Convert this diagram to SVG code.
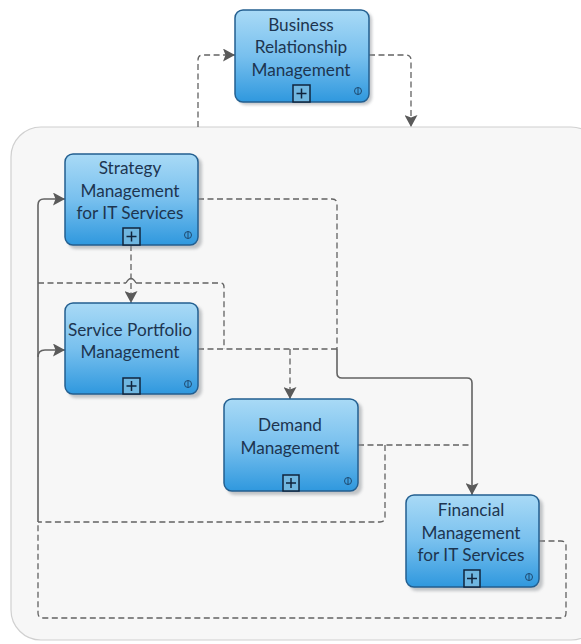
<svg xmlns="http://www.w3.org/2000/svg" width="581" height="644" viewBox="0 0 581 644">
<style>
.box{fill:url(#g);stroke:#235f90;stroke-width:1.5}
.sh{fill:#8a8f94;opacity:.5;filter:url(#b)}
.t{font-family:"Lato","Open Sans","Liberation Sans",sans-serif;font-size:17.2px;fill:#1d3550;text-anchor:middle}
.pl{fill:#6fb6e0;stroke:#10243c;stroke-width:1.5}
.pm{stroke:#10243c;stroke-width:1.5;fill:none}
.i{fill:none;stroke:#1f4a70;stroke-width:1}
.c{fill:none;stroke:#636363;stroke-width:1.3}
.d{stroke-dasharray:6 3.5}
.s{stroke-width:1.6}
</style>
<defs>
<linearGradient id="g" x1="0" y1="0" x2="0" y2="1"><stop offset="0" stop-color="#a9daf6"/><stop offset=".5" stop-color="#78c0ee"/><stop offset="1" stop-color="#2f98de"/></linearGradient>
<filter id="b" x="-10%" y="-10%" width="120%" height="120%"><feGaussianBlur stdDeviation="1.5"/></filter>
<marker id="a" markerUnits="userSpaceOnUse" markerWidth="13" markerHeight="13" refX="12" refY="6.500" orient="auto"><path d="M0 0L12 6.500L0 13L2.500 6.500Z" fill="#5a5a5a"/></marker>
</defs>
<rect width="581" height="644" fill="#ffffff"/>
<rect id="container" x="11" y="127" width="590" height="513" rx="30" fill="#f7f7f7" stroke="#d0d0d0" stroke-width="1.2"/>
<g id="connectors">
<path class="c d" d="M198 127V60Q198 55 203 55H235" marker-end="url(#a)"/>
<path class="c d" d="M369 55H406Q411 55 411 60V127" marker-end="url(#a)"/>
<path class="c s" d="M38 522V205Q38 199 44 199H65" marker-end="url(#a)"/>
<path class="c s" d="M38 357Q38 350 45 350H65" marker-end="url(#a)"/>
<path class="c d" d="M131 245V303" marker-end="url(#a)"/>
<path class="c" d="M126 283Q131 274 136 283"/>
<path class="c d" d="M38 283H126M136 283H220Q224 283 224 287V349"/>
<path class="c d" d="M198 349H337"/>
<path class="c d" d="M290 349V399" marker-end="url(#a)"/>
<path class="c d" d="M198 199H332Q337 199 337 204V349"/>
<path class="c s" d="M337 349V373Q337 378 342 378H467Q472 378 472 383V495" marker-end="url(#a)"/>
<path class="c d" d="M358 445H472"/>
<path class="c d" d="M385 445V517Q385 522 380 522H38"/>
<path class="c d" d="M539 541H561Q566 541 566 546V613Q566 618 561 618H43Q38 618 38 613V522"/>
</g>
<g id="n-brm">
<rect class="sh" x="238" y="12" width="134" height="93" rx="8"/>
<rect class="box" x="235" y="10" width="134" height="92" rx="8"/>
<text class="t" x="301" y="31">Business</text><text class="t" x="301" y="53">Relationship</text><text class="t" x="301" y="76">Management</text>
<rect class="pl" x="293" y="85" width="17" height="17"/><path class="pm" d="M296.500 93.500H306.500M301.500 88.500V98.500"/>
<circle class="i" cx="358" cy="91" r="3.500"/><path class="i" d="M358 87.500V94.500"/>
</g>
<g id="n-strategy">
<rect class="sh" x="68" y="157" width="134" height="92" rx="8"/>
<rect class="box" x="65" y="154" width="133" height="91" rx="8"/>
<text class="t" x="130" y="174">Strategy</text><text class="t" x="130" y="197">Management</text><text class="t" x="130" y="219">for IT Services</text>
<rect class="pl" x="123" y="228" width="17" height="17"/><path class="pm" d="M126.500 236.500H136.500M131.500 231.500V241.500"/>
<circle class="i" cx="188" cy="235" r="3.500"/><path class="i" d="M188 231.500V238.500"/>
</g>
<g id="n-portfolio">
<rect class="sh" x="68" y="306" width="134" height="92" rx="8"/>
<rect class="box" x="65" y="303" width="133" height="91" rx="8"/>
<text class="t" x="130" y="336">Service Portfolio</text><text class="t" x="130" y="358">Management</text>
<rect class="pl" x="123" y="378" width="17" height="16"/><path class="pm" d="M126.500 386H136.500M131.500 381V391"/>
<circle class="i" cx="188" cy="384" r="3.500"/><path class="i" d="M188 380.500V387.500"/>
</g>
<g id="n-demand">
<rect class="sh" x="227" y="402" width="135" height="93" rx="8"/>
<rect class="box" x="224" y="399" width="134" height="92" rx="8"/>
<text class="t" x="290" y="431">Demand</text><text class="t" x="290" y="454">Management</text>
<rect class="pl" x="283" y="475" width="16" height="16"/><path class="pm" d="M286 483H296M291 478V488"/>
<circle class="i" cx="348" cy="481" r="3.500"/><path class="i" d="M348 477.500V484.500"/>
</g>
<g id="n-financial">
<rect class="sh" x="409" y="498" width="134" height="93" rx="8"/>
<rect class="box" x="406" y="495" width="133" height="92" rx="8"/>
<text class="t" x="471" y="516">Financial</text><text class="t" x="471" y="539">Management</text><text class="t" x="471" y="561">for IT Services</text>
<rect class="pl" x="464" y="570" width="16" height="17"/><path class="pm" d="M467 578.500H477M472 573.500V583.500"/>
<circle class="i" cx="529" cy="577" r="3.500"/><path class="i" d="M529 573.500V580.500"/>
</g>
</svg>
